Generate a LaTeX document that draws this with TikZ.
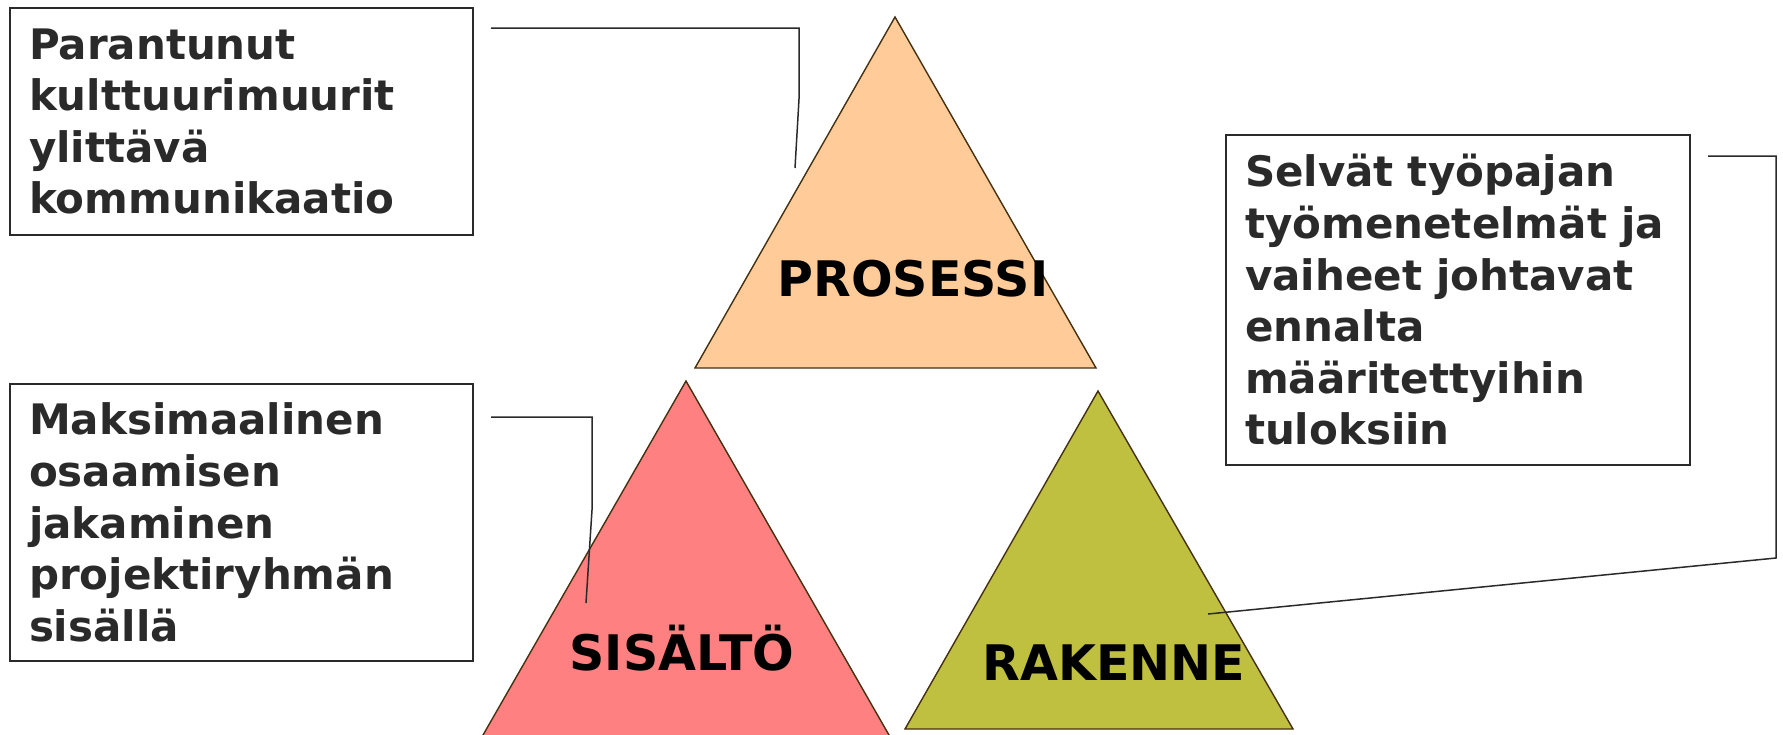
\documentclass[tikz,border=0pt]{standalone}
\usepackage{fontspec}
\setmainfont{DejaVu Sans}
\usetikzlibrary{positioning}
\definecolor{peach}{HTML}{FFCC99}
\definecolor{rose}{HTML}{FF8080}
\definecolor{olive}{HTML}{C0C040}
\definecolor{edgebrown}{HTML}{45300F}
\definecolor{inkgray}{HTML}{2A2A2A}
\tikzset{txtbox/.style={draw=inkgray, line width=1pt, text=inkgray, anchor=north west,
    font=\bfseries\fontsize{21}{25.8}\selectfont, align=left, inner xsep=9.5pt, inner ysep=0pt}}
\tikzset{lead/.style={draw=inkgray, line width=0.75pt}}
\tikzset{tri/.style={draw=edgebrown, line width=0.7pt, line join=miter}}
\tikzset{trilabel/.style={text=black, font=\bfseries\fontsize{24.5}{29}\selectfont, inner sep=0pt}}

\begin{document}
\begin{tikzpicture}[x=0.5pt,y=-0.5pt]
\useasboundingbox (0,0) rectangle (1783,734);
\begin{scope}
  \clip (0,0) rectangle (1783,734);
  % triangles
  \filldraw[tri, fill=peach] (895,17) -- (1096,368) -- (695,368) -- cycle;
  \filldraw[tri, fill=rose] (686,381) -- (893,742) -- (479,742) -- cycle;
  \filldraw[tri, fill=olive] (1098,391) -- (1293,729) -- (905,729) -- cycle;
\end{scope}
\node[trilabel] (prosessi) at (913,279) {PROSESSI};
\node[trilabel] (sisalto) at (682,648) {SISÄLTÖ};
\node[trilabel] (rakenne) at (1114,663) {RAKENNE};

% text boxes
\node[txtbox, minimum width=231.5pt, minimum height=113.5pt, text width=212.5pt] (kommu) at (9,7)
  {Parantunut\\kulttuurimuurit\\ylittävä\\kommunikaatio};
\node[txtbox, minimum width=231.5pt, minimum height=138.5pt, text width=212.5pt] (osaam) at (9,383)
  {Maksimaalinen\\osaamisen\\jakaminen\\projektiryhmän\\sisällä};
\node[txtbox, minimum width=232pt, minimum height=165pt, text width=213pt] (tyopaja) at (1225,134)
  {Selvät työpajan\\työmenetelmät ja\\vaiheet johtavat\\ennalta\\määritettyihin\\tuloksiin};

% leader ends
\coordinate (prosPt) at (795,168);
\coordinate (sisPt) at (586,603);
\coordinate (rakPt) at (1208,614);

% leaders
\draw[lead] ([xshift=8.5pt,yshift=-10.5pt]kommu.north east) -| (799,99) -- (prosPt);
\draw[lead] ([xshift=8.5pt,yshift=-17pt]osaam.north east) -| (592,510) -- (sisPt);
\draw[lead] ([xshift=8.5pt,yshift=-11pt]tyopaja.north east) -| (1776,558) -- (rakPt);
\end{tikzpicture}
\end{document}
